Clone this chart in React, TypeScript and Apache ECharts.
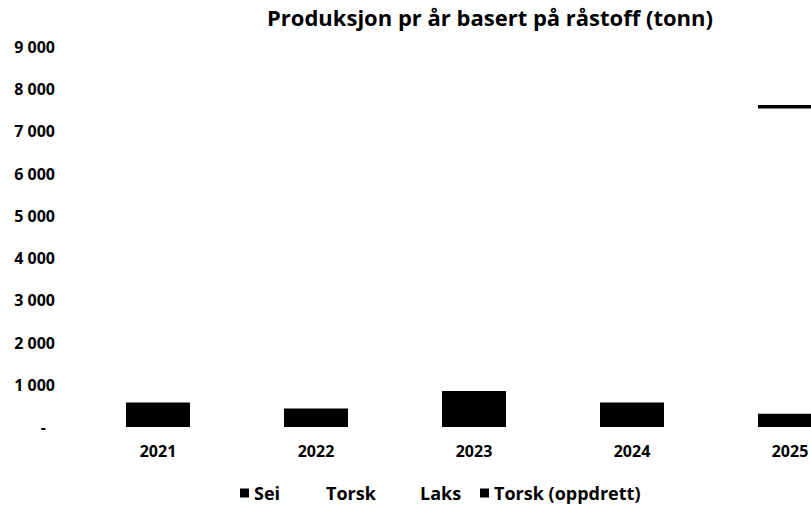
import React, { useEffect, useRef } from "react";
import * as echarts from "echarts";

const categories = ["2021", "2022", "2023", "2024", "2025"];
const sei = [580, 440, 850, 580, 320];
const torsk = [0, 0, 0, 0, 7225];
const laks = [0, 0, 0, 0, 0];
const torskOppdrett = [0, 0, 0, 0, 80];
const titleText = "Produksjon pr år basert på råstoff (tonn)";

const FONT = "Open Sans";

export default function App() {
  const ref = useRef<HTMLDivElement>(null);
  useEffect(() => {
    if (!ref.current) return;
    const chart = echarts.init(ref.current, undefined, { renderer: "svg" });
    const legendBase = {
      top: 484,
      itemWidth: 9,
      itemHeight: 9,
      icon: "rect",
      textStyle: { fontFamily: FONT, fontWeight: "bold", fontSize: 18, color: "#000" },
      padding: 0,
    };
    chart.setOption({
      animation: false,
      backgroundColor: "#fff",
      title: {
        text: titleText,
        left: 267,
        top: 6,
        padding: 0,
        textStyle: { fontFamily: FONT, fontWeight: "bold", fontSize: 22, color: "#000" },
      },
      legend: [
        { ...legendBase, left: 240, data: ["Sei"] },
        { ...legendBase, left: 312, data: ["Torsk"] },
        { ...legendBase, left: 406, data: ["Laks"] },
        { ...legendBase, left: 480, data: ["Torsk (oppdrett)"] },
      ],
      grid: { left: 79, top: 47, width: 790, height: 380 },
      xAxis: {
        type: "category",
        data: categories,
        axisLine: { show: false },
        axisTick: { show: false },
        axisLabel: { fontFamily: FONT, fontWeight: "bold", fontSize: 16, color: "#000", margin: 16 },
      },
      yAxis: {
        type: "value",
        min: 0,
        max: 9000,
        interval: 1000,
        splitLine: { show: false },
        axisLine: { show: false },
        axisTick: { show: false },
        axisLabel: {
          fontFamily: FONT,
          fontWeight: "bold",
          fontSize: 16,
          color: "#000",
          margin: 24,
          formatter: (v: number) =>
            v === 0 ? "{z|-}" : String(v).replace(/\B(?=(\d{3})+(?!\d))/g, " "),
          rich: { z: { fontFamily: FONT, fontWeight: "bold", fontSize: 16, color: "#000", padding: [0, 9, 0, 0] } },
        },
      },
      series: [
        { name: "Sei", type: "bar", stack: "a", data: sei, barWidth: 64, itemStyle: { color: "#000" } },
        { name: "Torsk", type: "bar", stack: "a", data: torsk, itemStyle: { color: "#fff" } },
        { name: "Laks", type: "bar", stack: "a", data: laks, itemStyle: { color: "#fff" } },
        { name: "Torsk (oppdrett)", type: "bar", stack: "a", data: torskOppdrett, itemStyle: { color: "#000" } },
      ],
    });
    return () => chart.dispose();
  }, []);
  return (
    <div style={{ position: "fixed", left: 0, top: 0, width: 811, height: 507, overflow: "hidden", background: "#fff" }}>
      <div ref={ref} style={{ width: 900, height: 507 }} />
    </div>
  );
}
